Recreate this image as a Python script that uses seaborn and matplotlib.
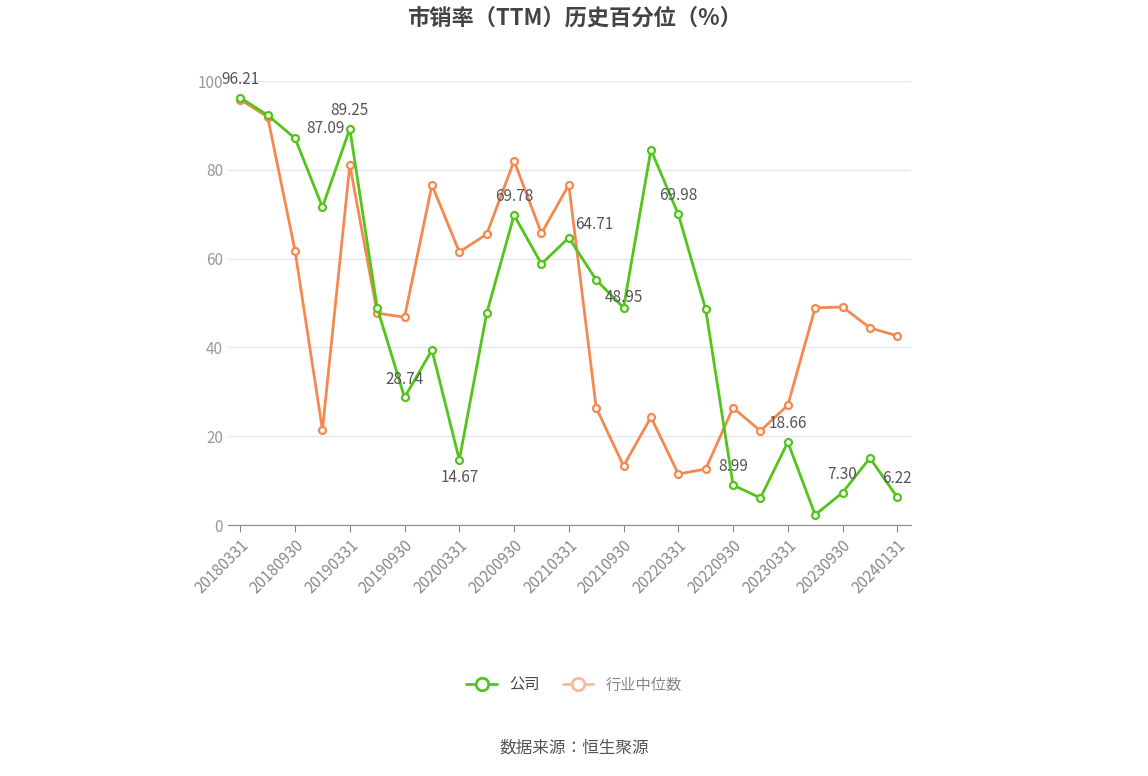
import numpy as np
import pandas as pd
import matplotlib.pyplot as plt
from matplotlib import font_manager
from matplotlib.lines import Line2D
import seaborn as sns

sns.set_style("white")
cjk = [f.name for f in font_manager.fontManager.ttflist if "CJK" in f.name]
plt.rcParams["font.family"] = "sans-serif"
plt.rcParams["font.sans-serif"] = (["Noto Sans CJK SC"] + cjk + ["DejaVu Sans"])

dates = ["20180331", "20180630", "20180930", "20181231", "20190331", "20190630",
         "20190930", "20191231", "20200331", "20200630", "20200930", "20201231",
         "20210331", "20210630", "20210930", "20211231", "20220331", "20220630",
         "20220930", "20221231", "20230331", "20230630", "20230930", "20231231",
         "20240131"]
company = [96.21, 92.3, 87.09, 71.6, 89.25, 48.9, 28.74, 39.4, 14.67, 47.7, 69.78, 58.8,
           64.71, 55.2, 48.95, 84.5, 69.98, 48.6, 8.99, 6.1, 18.66, 2.3, 7.30, 15.1, 6.22]
industry = [95.8, 91.9, 61.7, 21.4, 81.1, 47.7, 46.8, 76.6, 61.5, 65.5, 82.0, 65.7,
            76.6, 26.4, 13.3, 24.3, 11.5, 12.6, 26.4, 21.2, 27.0, 48.9, 49.1, 44.4, 42.6]

df = pd.DataFrame({"x": np.arange(len(dates)), "company": company, "industry": industry})

fig = plt.figure(figsize=(11.48, 7.76), dpi=100)
ax = fig.add_axes([228 / 1148, 1 - 525 / 776, (911 - 228) / 1148, (525 - 81) / 776])

green, orange = "#52c41a", "#f5884f"
sns.lineplot(data=df, x="x", y="industry", color=orange, marker="o", markersize=5,
             markerfacecolor="white", markeredgecolor=orange, markeredgewidth=1.6,
             linewidth=2, ax=ax, zorder=2)
sns.lineplot(data=df, x="x", y="company", color=green, marker="o", markersize=5,
             markerfacecolor="white", markeredgecolor=green, markeredgewidth=1.6,
             linewidth=2, ax=ax, zorder=3)

special = {0: (0, 10), 2: (22, 4), 4: (0, 10), 6: (0, 10), 8: (0, -16), 10: (0, 10),
           12: (18, 6), 14: (0, 4), 16: (0, 10), 18: (0, 10), 20: (0, 10), 22: (0, 10),
           24: (0, 10)}
for i in range(0, len(dates), 2):
    dx, dy = special[i]
    ax.annotate(f"{company[i]:.2f}", (i, company[i]), textcoords="offset points",
                xytext=(dx, dy), ha="center", fontsize=11, color="#555555", zorder=5)

ax.set_xlim(-0.45, 24.5)
ax.set_ylim(0, 100)
ax.set_yticks([0, 20, 40, 60, 80, 100])
ax.yaxis.grid(True, color="#e3e6ee", linewidth=1)
ax.set_xticks(range(0, len(dates), 2))
ax.set_xticklabels(dates[::2], rotation=45, ha="right", rotation_mode="anchor")
ax.tick_params(axis="x", colors="#888888", labelsize=11, length=5, direction="out",
               bottom=True)
ax.tick_params(axis="y", colors="#999999", labelsize=11, length=0)
for s in ["top", "right", "left"]:
    ax.spines[s].set_visible(False)
ax.spines["bottom"].set_color("#888888")
ax.set_xlabel("")
ax.set_ylabel("")

fig.text(0.5, 1 - 18 / 776, "市销率（TTM）历史百分位（%）", ha="center", va="center",
         fontsize=16, fontweight="bold", color="#444444")

h = [Line2D([], [], color=green, marker="o", markerfacecolor="white", markersize=9,
            markeredgewidth=2, linewidth=2),
     Line2D([], [], color="#f9b99a", marker="o", markerfacecolor="white", markersize=9,
            markeredgewidth=2, linewidth=2)]
leg = fig.legend(h, ["公司", "行业中位数"], loc="center", bbox_to_anchor=(0.5, 1 - 685 / 776),
                 ncol=2, frameon=False, fontsize=11, handlelength=2, columnspacing=1.5)
leg.get_texts()[0].set_color("#444444")
leg.get_texts()[1].set_color("#888888")

fig.text(0.5, 1 - 748 / 776, "数据来源：恒生聚源", ha="center", va="center",
         fontsize=12, color="#555555")

fig.savefig("out.png", dpi=100)
